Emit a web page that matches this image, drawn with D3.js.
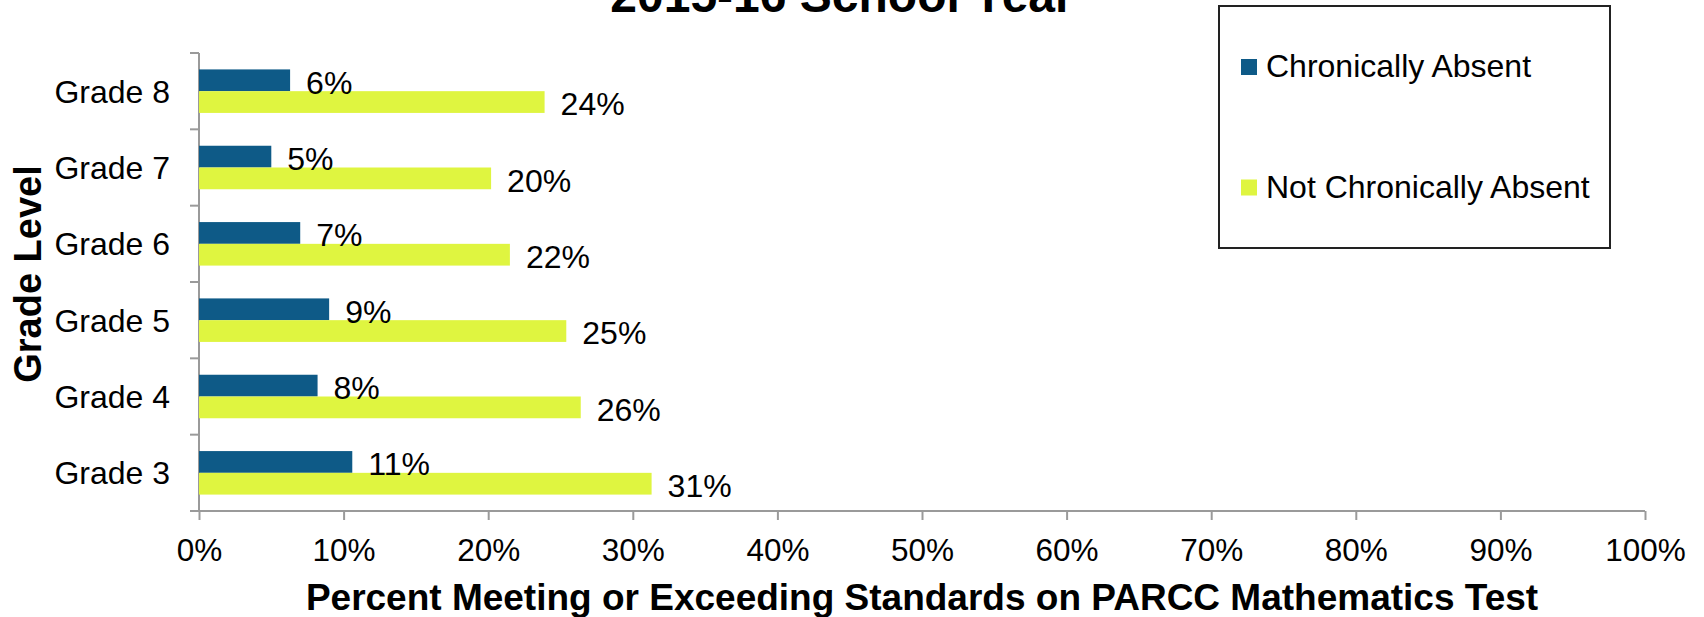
<!DOCTYPE html>
<html>
<head>
<meta charset="utf-8">
<script src="https://d3js.org/d3.v7.min.js"></script>
<style>
  body { margin: 0; background: #fff; }
  text { font-family: "Liberation Sans", Arial, sans-serif; }
</style>
</head>
<body>
<script>
'use strict';

// chart data
const grades = ["Grade 3", "Grade 4", "Grade 5", "Grade 6", "Grade 7", "Grade 8"];
const seriesNames = ["Chronically Absent", "Not Chronically Absent"];
const chronic = [0.106, 0.082, 0.090, 0.070, 0.050, 0.063];
const notChronic = [0.313, 0.264, 0.254, 0.215, 0.202, 0.239];
const xTicks = [0, 0.1, 0.2, 0.3, 0.4, 0.5, 0.6, 0.7, 0.8, 0.9, 1.0];

(function() {

  let svgContainer = ""; // keep SVG reference in global scope
  const colors = {
    "Chronically Absent": "#0e5a87",
    "Not Chronically Absent": "#dff540"
  };
  const axisColor = "#9a9a9a";
  const plot = { left: 199, right: 1645, top: 53, bottom: 511 };

  window.onload = function() {
    svgContainer = d3.select('body')
      .append('svg')
      .attr('width', 1704)
      .attr('height', 617);

    // table built from the arrays
    let rows = grades.map((g, i) => ({
      grade: g,
      values: [chronic[i], notChronic[i]]
    }));

    let map = drawAxes();
    plotData(rows, map);
    makeLabels();
    makeColorLegend();
  };

  // draw the axes and ticks
  function drawAxes() {
    let xScale = d3.scaleLinear()
      .domain([0, 1])
      .range([plot.left, plot.right]);

    // grade 8 on top, grade 3 at bottom
    let yScale = d3.scaleBand()
      .domain(grades.slice().reverse())
      .range([plot.top, plot.bottom])
      .paddingInner(0.43)
      .paddingOuter(0.215);

    let subScale = d3.scaleBand()
      .domain(seriesNames)
      .range([0, yScale.bandwidth()]);

    // x-axis at bottom
    let xAxis = d3.axisBottom(xScale)
      .tickValues(xTicks)
      .tickFormat(d3.format(".0%"))
      .tickSize(9)
      .tickSizeOuter(0)
      .tickPadding(19);
    let gx = svgContainer.append('g')
      .attr('transform', 'translate(0,' + plot.bottom + ')')
      .call(xAxis);
    gx.select('.domain')
      .attr('d', 'M' + (plot.left - 9) + ',0H' + plot.right)
      .attr('stroke', axisColor)
      .attr('stroke-width', 2);
    gx.selectAll('.tick line').attr('stroke', axisColor).attr('stroke-width', 2);
    gx.selectAll('.tick text')
      .attr('fill', '#000')
      .style('font-size', '31.5px')
      .style('font-family', '"Liberation Sans", Arial, sans-serif');

    // y-axis, labels only; boundary ticks drawn below
    let yAxis = d3.axisLeft(yScale)
      .tickSize(0)
      .tickPadding(29);
    let gy = svgContainer.append('g')
      .attr('transform', 'translate(' + plot.left + ',0)')
      .call(yAxis);
    gy.select('.domain')
      .attr('d', 'M0,' + plot.top + 'V' + plot.bottom)
      .attr('stroke', axisColor)
      .attr('stroke-width', 2);
    gy.selectAll('.tick text')
      .attr('fill', '#000')
      .attr('dy', '0.36em')
      .style('font-size', '32px')
      .style('font-family', '"Liberation Sans", Arial, sans-serif');

    // tick marks between categories (Excel style)
    let step = yScale.step();
    let bounds = d3.range(grades.length + 1).map((i) => plot.top + i * step);
    gy.selectAll('.bound')
      .data(bounds)
      .enter()
      .append('line')
        .attr('class', 'bound')
        .attr('x1', -9)
        .attr('x2', 0)
        .attr('y1', (d) => d)
        .attr('y2', (d) => d)
        .attr('stroke', axisColor)
        .attr('stroke-width', 2);

    return { x: xScale, y: yScale, sub: subScale };
  }

  // bars and value labels
  function plotData(rows, map) {
    let fmt = d3.format(".0%");

    let groups = svgContainer.selectAll('.grade')
      .data(rows)
      .enter()
      .append('g')
        .attr('class', 'grade')
        .attr('transform', (d) => 'translate(0,' + map.y(d.grade) + ')');

    let cells = groups.selectAll('.cell')
      .data((d) => d.values.map((v, i) => ({ name: seriesNames[i], value: v })))
      .enter();

    cells.append('rect')
      .attr('x', map.x(0))
      .attr('y', (d) => map.sub(d.name))
      .attr('width', (d) => map.x(d.value) - map.x(0))
      .attr('height', map.sub.bandwidth())
      .attr('fill', (d) => colors[d.name]);

    cells.append('text')
      .attr('x', (d) => map.x(d.value) + 16)
      .attr('y', (d) => map.sub(d.name) + map.sub.bandwidth() / 2)
      .attr('dy', '0.42em')
      .style('font-size', '32px')
      .text((d) => fmt(d.value));
  }

  // make title and axes labels
  function makeLabels() {
    // title sits mostly above the top edge, as in the source picture
    svgContainer.append('text')
      .attr('x', 842)
      .attr('y', 12)
      .attr('text-anchor', 'middle')
      .style('font-size', '48px')
      .style('font-weight', 'bold')
      .text("2015-16 School Year");

    svgContainer.append('text')
      .attr('x', (plot.left + plot.right) / 2)
      .attr('y', 610)
      .attr('text-anchor', 'middle')
      .style('font-size', '37px')
      .style('font-weight', 'bold')
      .text('Percent Meeting or Exceeding Standards on PARCC Mathematics Test');

    svgContainer.append('text')
      .attr('transform', 'translate(41, 274)rotate(-90)')
      .attr('text-anchor', 'middle')
      .style('font-size', '38px')
      .style('font-weight', 'bold')
      .text('Grade Level');
  }

  // legend box at top right
  function makeColorLegend() {
    svgContainer.append('rect')
      .attr('x', 1219)
      .attr('y', 6)
      .attr('width', 391)
      .attr('height', 242)
      .attr('fill', 'none')
      .attr('stroke', '#222')
      .attr('stroke-width', 2);

    let size = 16;
    let item = svgContainer.selectAll('.legendItem')
      .data(seriesNames)
      .enter()
      .append('g')
        .attr('class', 'legendItem')
        .attr('transform', (d, i) => 'translate(1241,' + (59 + i * 120.5) + ')');

    item.append('rect')
      .attr('width', size)
      .attr('height', size)
      .attr('fill', (d) => colors[d]);

    item.append('text')
      .attr('x', 25)
      .attr('y', 18)
      .style('font-size', '32px')
      .text((d) => d);
  }

})();
</script>
</body>
</html>
